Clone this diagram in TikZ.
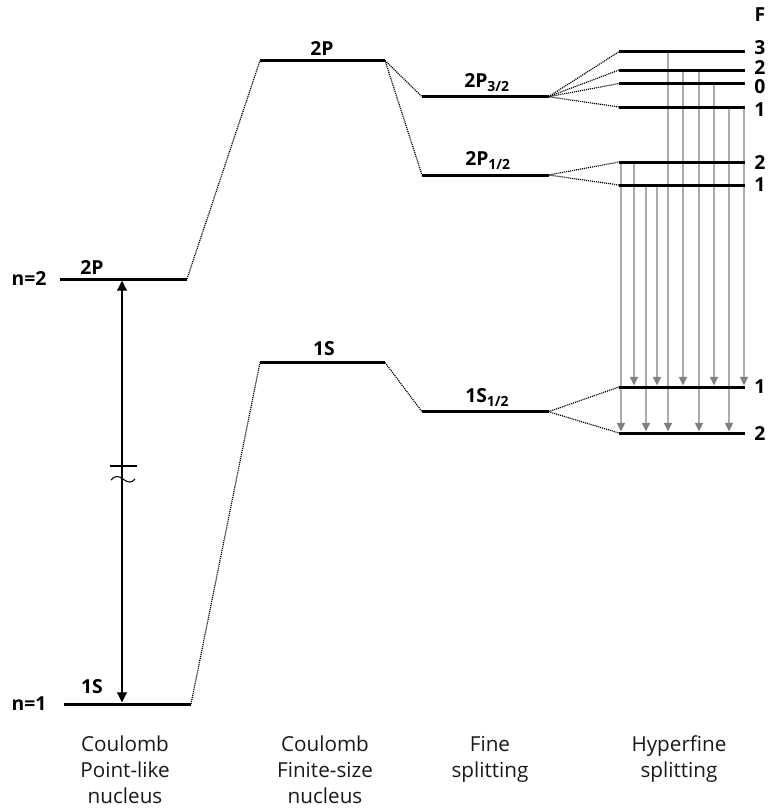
\documentclass[tikz,border=0pt]{standalone}
\usepackage{fontspec}
\setmainfont{Open Sans}
\usetikzlibrary{arrows.meta}
\begin{document}
\begin{tikzpicture}[x=0.75pt,y=-0.75pt,
  lvl/.style={line width=2.25pt},
  conn/.style={line width=0.9pt, dash pattern=on 0.8pt off 0.7pt},
  lbl/.style={font=\fontsize{14.5pt}{16pt}\bfseries\selectfont, inner sep=0pt},
  sublbl/.style={font=\fontsize{14.5pt}{16pt}\bfseries\selectfont, inner sep=0pt, anchor=base west},
  hfarrow/.style={draw=gray!65, line width=1.1pt, -{Triangle[width=6pt,length=6.5pt,color=gray]}, shorten >=1.1pt},
  bottomlbl/.style={font=\fontsize{15.5pt}{19.5pt}\selectfont, align=center, inner sep=0pt, text=black!90, anchor=base}]
\path[use as bounding box] (0,0) rectangle (769,808);

% ---- level end points
\coordinate (a2l) at (60,279);    \coordinate (a2r) at (187,279);
\coordinate (a1l) at (64,704);    \coordinate (a1r) at (191,704);
\coordinate (b2l) at (260,60.5);  \coordinate (b2r) at (385,60.5);
\coordinate (b1l) at (260,362.5); \coordinate (b1r) at (385,362.5);
\coordinate (c3l) at (422,96.7);  \coordinate (c3r) at (548.5,96.7);
\coordinate (c1l) at (422,175);   \coordinate (c1r) at (548.5,175);
\coordinate (cSl) at (422,411.7); \coordinate (cSr) at (548.5,411.7);
\foreach \n/\y in {F3/51.7,F2a/70,F0/83.5,F1a/107,F2b/162,F1b/185,S1/387,S2/433}{
  \coordinate (\n l) at (619,\y); \coordinate (\n r) at (745,\y);
}

% ---- hyperfine transitions (gray arrows)
\foreach \x/\from/\to in {668/F3/S2, 683/F2a/S1, 699/F2a/S2, 714/F0/S1, 729/F1a/S2, 744/F1a/S1,
                          621/F2b/S2, 634/F2b/S1, 646/F1b/S2, 657/F1b/S1}{
  \draw[hfarrow] (\from l -| \x,0) -- (\to l -| \x,0);
}

% ---- dotted connectors
\draw[conn] (a2r) -- (b2l);
\draw[conn] (a1r) -- (b1l);
\draw[conn] (b2r) -- (c3l);
\draw[conn] (b2r) -- (c1l);
\draw[conn] (b1r) -- (cSl);
\foreach \n in {F3,F2a,F0,F1a}{ \draw[conn] (c3r) -- (\n l); }
\foreach \n in {F2b,F1b}{ \draw[conn] (c1r) -- (\n l); }
\foreach \n in {S1,S2}{ \draw[conn] (cSr) -- (\n l); }

% ---- levels
\draw[lvl] (a2l) -- (a2r);
\draw[lvl] (a1l) -- (a1r);
\draw[lvl] (b2l) -- (b2r);
\draw[lvl] (b1l) -- (b1r);
\draw[lvl] (c3l) -- (c3r);
\draw[lvl] (c1l) -- (c1r);
\draw[lvl] (cSl) -- (cSr);
\foreach \n in {F3,F2a,F0,F1a,F2b,F1b,S1,S2}{ \draw[lvl] (\n l) -- (\n r); }

% ---- n=2 <-> n=1 arrow with break
\coordinate (arrtop) at (122,279);
\coordinate (arrbot) at (122,704);
\draw[line width=0.8pt, {Triangle[width=7.5pt,length=7.5pt]}-{Triangle[width=7.5pt,length=7.5pt]}, shorten <=1.3pt, shorten >=1.3pt] (arrtop) -- (arrbot);
\coordinate (brl) at (110,466); \coordinate (brr) at (137,466);
\draw[line width=0.8pt] (brl) -- (brr);
\coordinate (tl) at (111,480); \coordinate (tr) at (135,479);
\draw[line width=0.8pt] (tl) .. controls (115,475) and (119,476) .. (123,479)
                         .. controls (127,482) and (131,484) .. (tr);

% ---- labels, column 1
\node[lbl] (n2) at (29,278) {n=2};
\node[lbl] (n1) at (29,704) {n=1};
\node[lbl] (l2P) at (92,267) {2P};
\node[lbl] (l1S) at (92,687) {1S};
% column 2
\node[lbl] (m2P) at (322,48) {2P};
\node[lbl] (m1S) at (324,349) {1S};
% column 3
\node[sublbl] (f32) at (464,87) {2P\raisebox{-0.45ex}{\fontsize{10.5pt}{11pt}\selectfont 3/2}};
\node[sublbl] (f12) at (465,165) {2P\raisebox{-0.45ex}{\fontsize{10.5pt}{11pt}\selectfont 1/2}};
\node[sublbl] (s12) at (465,402) {1S\raisebox{-0.45ex}{\fontsize{10.5pt}{11pt}\selectfont 1/2}};
% column 4
\node[lbl] (Fh) at (760,15) {F};
\node[lbl] (h3) at (760,48) {3};
\node[lbl] (h2a) at (760,67.5) {2};
\node[lbl] (h0) at (760,87) {0};
\node[lbl] (h1a) at (760,110) {1};
\node[lbl] (h2b) at (760,162) {2};
\node[lbl] (h1b) at (760,185) {1};
\node[lbl] (g1) at (760,387) {1};
\node[lbl] (g2) at (760,433) {2};

% ---- bottom captions (anchored at the last line's baseline)
\node[bottomlbl] (cap1) at (125,803) {Coulomb\\Point-like\\nucleus};
\node[bottomlbl] (cap2) at (325,803) {Coulomb\\Finite-size\\nucleus};
\node[bottomlbl] (cap3) at (490,777) {Fine\\splitting};
\node[bottomlbl] (cap4) at (679,777) {Hyperfine\\splitting};
\end{tikzpicture}
\end{document}
